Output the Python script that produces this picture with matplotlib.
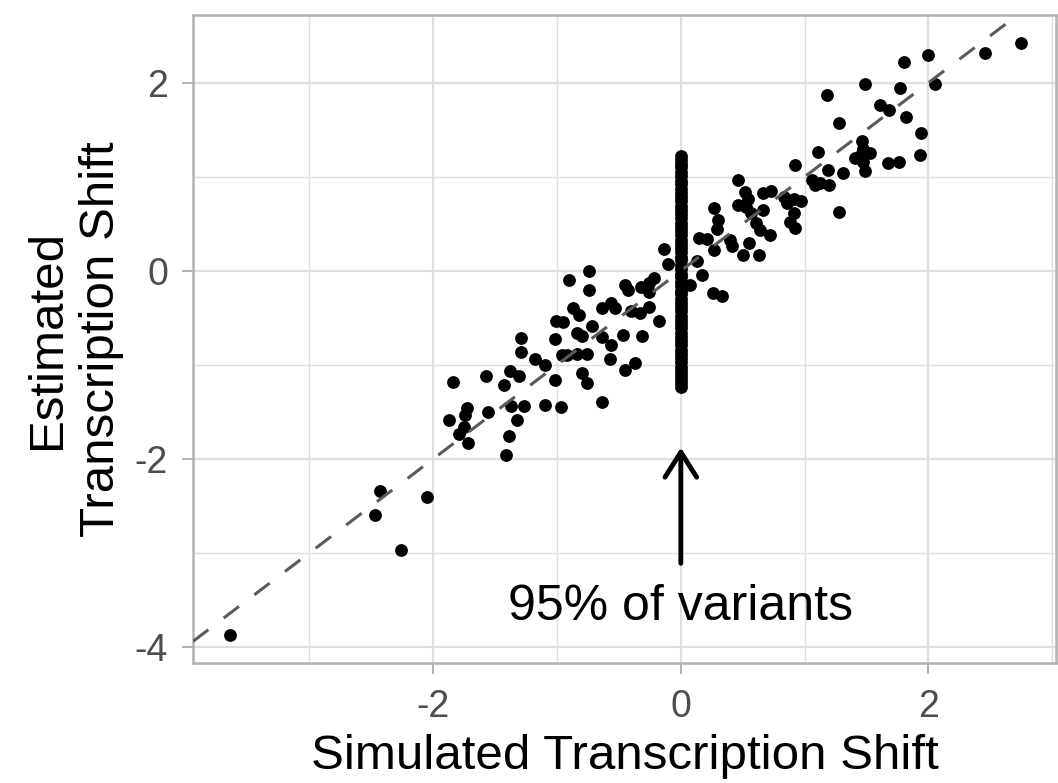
import numpy as np
import matplotlib
matplotlib.use('Agg')
import matplotlib.pyplot as plt
from matplotlib.ticker import MultipleLocator

plt.rcParams['font.family'] = ['Liberation Sans', 'DejaVu Sans']
plt.rcParams['axes.unicode_minus'] = False

# variants with a non-zero simulated shift
sim_shift = [
    -3.64, -2.47, -2.43, -2.26, -2.05,
    -1.84, -1.87, -1.73, -1.74, -1.75, -1.79, -1.72, -1.57, -1.56, -1.43,
    -1.38, -1.31, -1.29, -1.29, -1.37, -1.27, -1.32, -1.39, -1.41, -1.18,
    -1.10, -1.02, -1.10, -0.97, -1.01, -1.02, -0.96,
    -0.95, -0.74, -0.90, -0.74, -0.45, -0.43, -0.32, -0.26, -0.22, -0.26,
    -0.87, -0.82, -0.64, -0.56, -0.53, -0.40, -0.33, -0.26, -0.18, -0.72,
    -0.84, -0.80, -0.64, -0.47, -0.31, -0.56, -0.92, -0.84, -0.76, -0.57,
    -0.37, -0.45, -0.80, -0.76, -0.64, -0.14, -0.10,
    0.07, 0.13, 0.17, 0.26, 0.33, 0.15, 0.21, 0.27, 0.40, 0.41, 0.27, 0.30,
    0.29, 0.46, 0.52, 0.54, 0.46, 0.53, 0.57, 0.66, 0.61, 0.64, 0.72, 0.55,
    0.50, 0.63, 0.66, 0.73, 0.83, 0.86, 0.91, 0.97, 0.91, 0.88, 0.92, 0.92,
    1.06, 1.12, 1.20, 1.08, 1.28, 1.31, 1.19, 1.11, 1.41, 1.46, 1.53, 1.47,
    1.49, 1.67, 1.76, 1.93, 1.94, 1.46, 1.47, 1.28, 1.82, 1.61, 1.68, 1.18,
    1.49, 1.77, 1.80, 2.05, 2.00, 2.46, 2.75,
]
est_shift = [
    -3.87, -2.60, -2.34, -2.97, -2.41,
    -1.18, -1.59, -1.46, -1.53, -1.66, -1.74, -1.83, -1.12, -1.50, -1.21,
    -1.07, -1.12, -0.71, -0.86, -1.44, -1.44, -1.59, -1.76, -1.96, -0.94,
    -1.00, -1.16, -1.43, -1.45, -0.53, -0.73, -0.90,
    -0.54, 0.00, -0.10, -0.20, -0.15, -0.20, -0.17, -0.13, -0.08, -0.22,
    -0.40, -0.47, -0.40, -0.34, -0.40, -0.43, -0.45, -0.38, -0.53, -0.59,
    -0.66, -0.69, -0.70, -0.68, -0.69, -0.79, -0.89, -0.88, -0.88, -0.94,
    -0.98, -1.05, -1.09, -1.19, -1.39, 0.23, 0.07,
    -0.15, 0.10, -0.04, -0.24, -0.27, 0.35, 0.34, 0.22, 0.33, 0.26, 0.67, 0.54,
    0.44, 0.97, 0.84, 0.76, 0.70, 0.68, 0.61, 0.65, 0.51, 0.43, 0.38, 0.30,
    0.17, 0.17, 0.83, 0.85, 0.79, 0.72, 0.76, 0.74, 0.61, 0.52, 0.45, 1.13,
    0.97, 0.93, 0.91, 0.91, 0.63, 1.04, 1.07, 1.26, 1.20, 1.25, 1.25, 1.16,
    1.06, 1.15, 1.16, 1.23, 1.47, 1.38, 1.29, 1.57, 1.64, 1.76, 1.71, 1.87,
    1.99, 1.94, 2.22, 1.99, 2.29, 2.32, 2.42,
]

# variants simulated with no shift (the stacked column at x = 0)
null_est = [
    -1.24, -1.19, -1.15, -1.11, -1.06, -1.02, -0.97, -0.93, -0.88, -0.84,
    -0.79, -0.75, -0.70, -0.66, -0.61, -0.57, -0.52, -0.48, -0.43, -0.39,
    -0.34, -0.30, -0.25, -0.21, -0.16, -0.12, -0.07, -0.03, 0.02, 0.06,
    0.11, 0.15, 0.20, 0.24, 0.29, 0.33, 0.38, 0.42, 0.47, 0.51, 0.56,
    0.60, 0.65, 0.69, 0.74, 0.78, 0.83, 0.87, 0.92, 0.96, 1.01, 1.05,
    1.10, 1.14, 1.18, 1.22,
]
null_sim = [0.0] * len(null_est)

xlim = (-3.94, 3.03)
ylim = (-4.17, 2.72)
label_text = '95% of variants'

fig = plt.figure(figsize=(10.58, 7.83), dpi=100)
ax = fig.add_axes([193 / 1058, 1 - 663 / 783, (1056 - 193) / 1058, (663 - 15) / 783])

ax.set_xlim(*xlim)
ax.set_ylim(*ylim)
ax.xaxis.set_major_locator(MultipleLocator(2))
ax.yaxis.set_major_locator(MultipleLocator(2))
ax.xaxis.set_minor_locator(MultipleLocator(1))
ax.yaxis.set_minor_locator(MultipleLocator(1))

ax.grid(which='major', color='#DEDEDE', linewidth=1.6, zorder=0)
ax.grid(which='minor', color='#DEDEDE', linewidth=1.0, zorder=0)
ax.set_axisbelow(True)
for side in ax.spines.values():
    side.set_color('#B3B3B3')
    side.set_linewidth(1.8)

ax.tick_params(which='major', length=8, width=1.4, color='#B3B3B3',
               labelcolor='#4D4D4D', labelsize=27)
ax.tick_params(axis='x', which='major', pad=11)
ax.tick_params(axis='y', which='major', pad=10)
ax.tick_params(which='minor', length=0)

ax.scatter(sim_shift, est_shift, s=85, color='black', linewidths=0, zorder=3)
ax.scatter(null_sim, null_est, s=85, color='black', linewidths=0, zorder=3)

# identity line
ax.plot(xlim, xlim, color='#5A5A5A', linewidth=2.2, dashes=(6.3, 6.3), zorder=4)

ax.annotate('', xy=(0, -1.88), xytext=(0, -3.11),
            arrowprops=dict(arrowstyle='->,head_length=0.6,head_width=0.38',
                            mutation_scale=30, lw=3.5, color='black',
                            shrinkA=0, shrinkB=0), zorder=5)
ax.text(0, -3.71, label_text, ha='center', va='baseline', fontsize=36,
        color='black', zorder=5)

ax.set_xlabel('Simulated Transcription Shift', fontsize=35.5, labelpad=6)
ax.set_ylabel('Estimated\nTranscription Shift', fontsize=35.5, labelpad=8,
              linespacing=1.25)

fig.savefig('out.png', dpi=100)
